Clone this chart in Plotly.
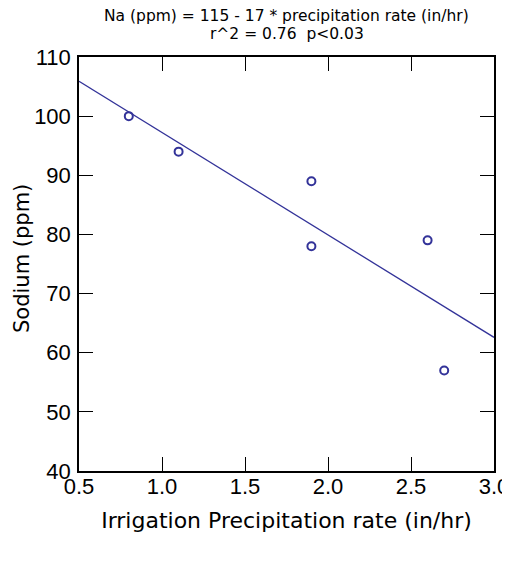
import plotly.graph_objects as go

# measured points
precip_rate = [0.8, 1.1, 1.9, 1.9, 2.6, 2.7]
sodium_ppm = [100, 94, 89, 78, 79, 57]

# regression line ends
fit_x = [0.5, 3.0]
fit_y = [105.9, 62.6]

x_ticks = [0.5, 1.0, 1.5, 2.0, 2.5, 3.0]
y_ticks = [40, 50, 60, 70, 80, 90, 100, 110]

navy = "#333399"
tick_font = dict(family="Liberation Sans, Arial", size=22, color="black")
head_font = dict(family="DejaVu Sans", size=15.5, color="black")

fig = go.Figure()
fig.add_trace(go.Scatter(x=fit_x, y=fit_y, mode="lines",
                         line=dict(color=navy, width=1.3), hoverinfo="skip"))
fig.add_trace(go.Scatter(x=precip_rate, y=sodium_ppm, mode="markers",
                         marker=dict(symbol="circle-open", size=8, color=navy,
                                     line=dict(width=2, color=navy))))

# page body adds 8px, so the figure is a bit smaller than the window
fig.update_layout(
    width=502, height=562,
    margin=dict(l=71, r=16, t=49, b=99),
    plot_bgcolor="white", paper_bgcolor="white",
    showlegend=False,
    annotations=[
        dict(text="Na (ppm) = 115 - 17 * precipitation rate (in/hr)",
             xref="paper", yref="paper", x=0.5, y=1.0, yshift=41,
             xanchor="center", yanchor="middle", showarrow=False, font=head_font),
        dict(text="r^2 = 0.76  p<0.03",
             xref="paper", yref="paper", x=0.5, y=1.0, yshift=23,
             xanchor="center", yanchor="middle", showarrow=False, font=head_font),
        # y title as annotation so it can sit closer to the page edge
        dict(text="Sodium (ppm)", textangle=-90,
             xref="paper", yref="paper", x=0, y=0.5, xshift=-57, yshift=5,
             xanchor="center", yanchor="middle", showarrow=False,
             font=dict(family="DejaVu Sans", size=21, color="black")),
    ],
)
fig.update_xaxes(range=[0.5, 3.0], tickvals=x_ticks, tickformat=".1f",
                 ticks="inside", ticklen=14, tickwidth=1.3, tickcolor="black",
                 showline=True, linecolor="black", linewidth=1.5, mirror="ticks",
                 showgrid=False, zeroline=False, tickfont=tick_font,
                 ticklabelstandoff=-5, automargin=False,
                 title=dict(text="Irrigation Precipitation rate (in/hr)",
                            font=dict(family="DejaVu Sans", size=22, color="black"),
                            standoff=14))
fig.update_yaxes(range=[40, 110], tickvals=y_ticks,
                 ticks="inside", ticklen=14, tickwidth=1.3, tickcolor="black",
                 showline=True, linecolor="black", linewidth=1.5, mirror="ticks",
                 showgrid=False, zeroline=False, tickfont=tick_font,
                 ticklabelstandoff=2, automargin=False)

fig.write_html("out.html")
